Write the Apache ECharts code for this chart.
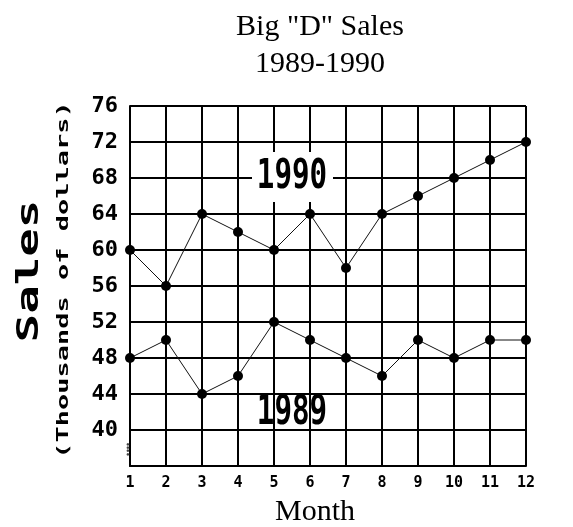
<!DOCTYPE html>
<html><head><meta charset="utf-8">
<script src="https://cdn.jsdelivr.net/npm/echarts@6/dist/echarts.min.js"></script>
<style>html,body{margin:0;padding:0;background:#fff}#c{width:573px;height:527px}</style>
</head><body><div id="c"></div>
<script>
const months = [1, 2, 3, 4, 5, 6, 7, 8, 9, 10, 11, 12];
const sales1989 = [48, 50, 44, 46, 52, 50, 48, 46, 50, 48, 50, 50];
const sales1990 = [60, 56, 64, 62, 60, 64, 58, 64, 66, 68, 70, 72];
const yMin = 36, yMax = 76, yStep = 4;
const label1990 = { text: '1990', at: [5.5, 68] };
const label1989 = { text: '1989', at: [5.5, 41.8] };

const mono = '"DejaVu Sans Mono", monospace';
const serif = '"Liberation Serif", serif';
const pairs = arr => months.map((m, i) => [m, arr[i]]);

const chart = echarts.init(document.getElementById('c'), null, { renderer: 'canvas' });
const lineSeries = (name, arr) => ({
  name, type: 'line', data: pairs(arr), symbol: 'circle', symbolSize: 10,
  itemStyle: { color: '#000' }, lineStyle: { color: '#111', width: 1 }, z: 3
});
chart.setOption({
  animation: false,
  backgroundColor: '#fff',
  title: {
    text: 'Big "D" Sales\n1989-1990', left: 315, top: 4, textAlign: 'center',
    textStyle: { fontFamily: serif, fontWeight: 'normal', fontSize: 30, lineHeight: 37, color: '#000' }
  },
  grid: { left: 130, right: 47, top: 106, bottom: 61 },
  xAxis: {
    type: 'value', min: 1, max: 12, interval: 1,
    axisLine: { lineStyle: { color: '#000', width: 2 } },
    axisTick: { show: false },
    splitLine: { show: true, lineStyle: { color: '#000', width: 2 } },
    axisLabel: { fontFamily: mono, fontWeight: 'bold', fontSize: 15, color: '#000', margin: 10 }
  },
  yAxis: {
    type: 'value', min: yMin, max: yMax, interval: yStep,
    axisLine: { show: true, lineStyle: { color: '#000', width: 2 } },
    axisTick: { show: false },
    splitLine: { show: true, lineStyle: { color: '#000', width: 2 } },
    axisLabel: { formatter: v => (v === yMin ? '' : String(v)), fontFamily: mono, fontWeight: 'bold', fontSize: 22, color: '#000', margin: 12 }
  },
  series: [lineSeries('1990', sales1990), lineSeries('1989', sales1989)]
});

const p90 = chart.convertToPixel({ gridIndex: 0 }, label1990.at);
const p89 = chart.convertToPixel({ gridIndex: 0 }, label1989.at);
const bigLabel = (txt, p) => ({
  type: 'text', x: p[0], y: p[1], scaleX: 0.73, z: 20,
  style: { text: txt, fontFamily: mono, fontWeight: 'bold', fontSize: 40, fill: '#000', align: 'center', verticalAlign: 'middle' }
});
chart.setOption({
  graphic: [
    { type: 'rect', shape: { x: p90[0] - 40, y: p90[1] - 26, width: 81, height: 50 }, style: { fill: '#fff' }, z: 19 },
    bigLabel(label1990.text, p90),
    bigLabel(label1989.text, p89),
    { type: 'text', x: 30, y: 271, rotation: Math.PI / 2, scaleX: 1.53, z: 20,
      style: { text: 'Sales', fontFamily: mono, fontWeight: 'bold', fontSize: 31, fill: '#000', align: 'center', verticalAlign: 'middle' } },
    { type: 'text', x: 64, y: 280, rotation: Math.PI / 2, scaleX: 1.8, z: 20,
      style: { text: '(Thousands of dollars)', fontFamily: mono, fontWeight: 'bold', fontSize: 15, fill: '#000', align: 'center', verticalAlign: 'middle' } },
    { type: 'text', x: 315, y: 512, z: 20,
      style: { text: 'Month', fontFamily: serif, fontSize: 30, fill: '#000', align: 'center', verticalAlign: 'middle' } },
    { type: 'text', x: 128, y: 451, z: 20,
      style: { text: '⁞', fontFamily: mono, fontWeight: 'bold', fontSize: 16, fill: '#444', align: 'center', verticalAlign: 'middle' } }
  ]
});
</script></body></html>
